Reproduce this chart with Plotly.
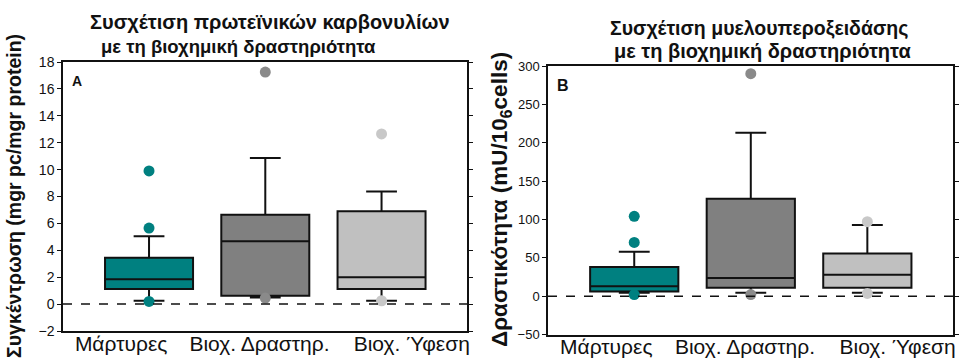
import plotly.graph_objects as go

# ---------------- data ----------------
categories = ["Μάρτυρες", "Βιοχ. Δραστηρ.", "Βιοχ. Ύφεση"]
box_colors = ["#008080", "#808080", "#C0C0C0"]
outlier_colors = ["#008080", "#8A8A8A", "#C8C8C8"]

# Panel A: protein carbonyls (mgr pc/mgr protein)
a_q1 = [1.12, 0.62, 1.12]
a_median = [1.85, 4.67, 1.99]
a_q3 = [3.45, 6.64, 6.91]
a_low = [0.25, 0.50, 0.25]
a_high = [5.05, 10.87, 8.38]
a_outliers = [[9.9, 5.65, 0.2], [17.25, 0.45], [12.65, 0.25]]

# Panel B: myeloperoxidase activity (mU/10^6 cells)
b_q1 = [6.0, 11.0, 11.0]
b_median = [13.0, 23.5, 27.9]
b_q3 = [38.0, 127.0, 55.6]
b_low = [4.4, 4.4, 4.4]
b_high = [58.0, 213.0, 92.6]
b_outliers = [[104.0, 70.0, 2.0], [290.0, 2.0], [97.0, 3.5]]

a_ticks = [-2, 0, 2, 4, 6, 8, 10, 12, 14, 16, 18]
b_ticks = [-50, 0, 50, 100, 150, 200, 250, 300]
label_pos = [-0.24, 0.95, 2.26]

W, H = 960, 361
fig = go.Figure()


def add_panel(q1, med, q3, lo, hi, outs, xa, ya):
    for i, cat in enumerate(categories):
        fig.add_trace(go.Box(
            x=[i], q1=[q1[i]], median=[med[i]], q3=[q3[i]],
            lowerfence=[lo[i]], upperfence=[hi[i]],
            boxpoints=False, width=0.757, whiskerwidth=0.35,
            fillcolor=box_colors[i], line=dict(color="#111111", width=2),
            name=cat, showlegend=False, xaxis=xa, yaxis=ya,
        ))
    for i, cat in enumerate(categories):
        fig.add_trace(go.Scatter(
            x=[i] * len(outs[i]), y=outs[i], mode="markers",
            marker=dict(color=outlier_colors[i], size=11, line=dict(width=0)),
            showlegend=False, xaxis=xa, yaxis=ya, name=cat,
        ))


add_panel(a_q1, a_median, a_q3, a_low, a_high, a_outliers, "x", "y")
add_panel(b_q1, b_median, b_q3, b_low, b_high, b_outliers, "x2", "y2")

font_family = "Liberation Sans, Arial, sans-serif"
axis_common = dict(showline=True, linecolor="#111111", linewidth=1.5,
                   showgrid=False, zeroline=False, automargin=False)

fig.update_layout(
    template="none",
    width=W, height=H,
    margin=dict(l=0, r=0, t=0, b=0, pad=0),
    paper_bgcolor="white", plot_bgcolor="white",
    font=dict(family=font_family, color="#111111"),
    xaxis=dict(domain=[63 / W, 467 / W], range=[-0.74, 2.735], anchor="y",
               tickmode="array", tickvals=label_pos, ticktext=categories,
               ticks="", mirror=True, tickfont=dict(size=21), ticklabelstandoff=-7,
               **axis_common),
    yaxis=dict(domain=[(H - 331) / H, (H - 62) / H], range=[-2, 18], anchor="x",
               tickmode="array", tickvals=a_ticks, ticks="outside", ticklen=4,
               tickcolor="#111111", mirror="ticks", tickfont=dict(size=14),
               **axis_common),
    xaxis2=dict(domain=[548 / W, 953 / W], range=[-0.74, 2.735], anchor="y2",
                tickmode="array", tickvals=label_pos, ticktext=categories,
                ticks="", mirror=True, tickfont=dict(size=21), ticklabelstandoff=-7,
                **axis_common),
    yaxis2=dict(domain=[(H - 334.5) / H, (H - 66) / H], range=[-50, 300], anchor="x2",
                tickmode="array", tickvals=b_ticks, ticks="outside", ticklen=4,
                tickcolor="#111111", mirror="ticks", tickfont=dict(size=13),
                **axis_common),
)

# dashed zero reference lines
for xr, yr in [("x", "y"), ("x2", "y2")]:
    fig.add_shape(type="line", xref=f"{xr} domain", yref=yr, x0=0, x1=1, y0=0, y1=0,
                  line=dict(color="#111111", width=1.5, dash="dash"))

ann = []
# titles
ann.append(dict(text="<b>Συσχέτιση πρωτεϊνικών καρβονυλίων</b>", x=270 / W, y=(H - 22) / H,
                xanchor="center", yanchor="middle", font=dict(size=20)))
ann.append(dict(text="<b>με τη βιοχημική δραστηριότητα</b>", x=238 / W, y=(H - 46) / H,
                xanchor="center", yanchor="middle", font=dict(size=18.5)))
ann.append(dict(text="<b>Συσχέτιση μυελουπεροξειδάσης</b>", x=759 / W, y=(H - 28) / H,
                xanchor="center", yanchor="middle", font=dict(size=19.5)))
ann.append(dict(text="<b>με τη βιοχημική δραστηριότητα</b>", x=762 / W, y=(H - 51) / H,
                xanchor="center", yanchor="middle", font=dict(size=20)))
# axis titles
ann.append(dict(text="<b>Συγκέντρωση (mgr pc/mgr protein)</b>", x=14 / W, y=(H - 196) / H,
                xanchor="center", yanchor="middle", textangle=-90, font=dict(size=19.5)))
ann.append(dict(text="<b>Δραστικότητα (mU/10<sub>6</sub>cells)</b>", x=501 / W, y=(H - 200) / H,
                xanchor="center", yanchor="middle", textangle=-90, font=dict(size=22.5)))
# panel letters
ann.append(dict(text="<b>A</b>", x=77 / W, y=(H - 81) / H, xanchor="center", yanchor="middle",
                font=dict(size=14)))
ann.append(dict(text="<b>B</b>", x=563 / W, y=(H - 86) / H, xanchor="center", yanchor="middle",
                font=dict(size=16)))

for a in ann:
    a.update(xref="paper", yref="paper", showarrow=False)
    fig.add_annotation(**a)

fig.write_html(
    "out.html",
    config={"displayModeBar": False},
    post_script="document.body.style.margin='0px';document.body.style.overflow='hidden';",
)
